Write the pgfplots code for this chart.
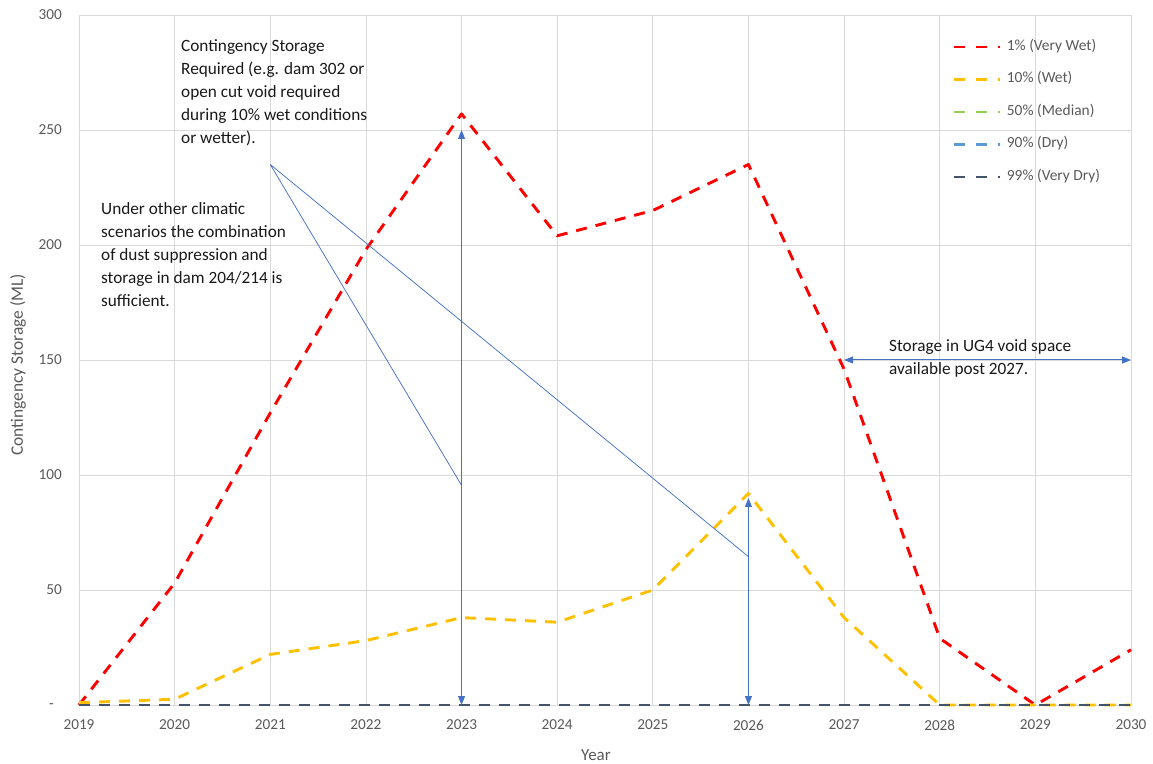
\documentclass[border=0pt]{standalone}
\usepackage{fontspec}
\setmainfont{Carlito}
\usepackage{pgfplots}
\pgfplotsset{compat=1.18}
\usetikzlibrary{arrows.meta}
\definecolor{cRed}{HTML}{FF0000}
\definecolor{cYel}{HTML}{FFC000}
\definecolor{cGrn}{HTML}{92D050}
\definecolor{cLbl}{HTML}{5B9BD5}
\definecolor{cDbl}{HTML}{44546A}
\definecolor{cArr}{HTML}{4472C4}
\definecolor{cGrid}{HTML}{D9D9D9}
\definecolor{cTxt}{HTML}{595959}
\newcommand{\annfont}{\fontsize{17.3}{23}\selectfont}
\newcommand{\tickfont}{\fontsize{15.3}{17}\selectfont}
\begin{document}
\begin{tikzpicture}
\useasboundingbox (-79bp,-59bp) rectangle (1074bp,705bp);
\begin{axis}[
  scale only axis, width=1052bp, height=690bp,
  xmin=2019, xmax=2030, ymin=0, ymax=300,
  clip=false,
  axis line style={draw=none},
  major tick length=0pt,
  grid=major, grid style={cGrid, line width=0.75bp},
  xtick={2019,2020,2021,2022,2023,2024,2025,2026,2027,2028,2029,2030},
  xticklabels={2019,2020,2021,2022,2023,2024,2025,2026,2027,2028,2029,2030},
  ytick={0,50,100,150,200,250,300},
  yticklabels={,50,100,150,200,250,300},
  tick label style={font=\tickfont, text=cTxt},
  xticklabel style={inner sep=0pt, anchor=center, yshift=-20bp},
  yticklabel style={inner sep=0pt, anchor=east, xshift=-17bp},
  xlabel={Year},
  xlabel style={at={(axis description cs:0.4914,-0.0725)}, anchor=center, font=\fontsize{17}{19}\selectfont, text=cTxt},
  ylabel={Contingency Storage (ML)},
  ylabel style={at={(axis description cs:-0.058,0.4928)}, anchor=center, font=\fontsize{17.5}{19}\selectfont, text=cTxt},
  legend image code/.code={\draw[#1, dash pattern=on 11bp off 11bp on 11bp off 11bp on 2bp] (0bp,0bp) -- (46bp,0bp);},
  legend cell align=left,
  legend style={at={(axis description cs:0.8308,0.9638)}, anchor=north west, draw=none, fill=none, inner sep=0pt, outer sep=0pt, row sep=18.5bp, column sep=5bp, font=\fontsize{15.5}{17}\selectfont, text=cTxt, nodes={inner sep=0pt, text height=10.5bp, text depth=3.5bp}},
  every axis plot/.append style={line width=2.9bp, dash pattern=on 11bp off 9bp, line join=round},
]
\addplot[cRed] coordinates {(2019,0) (2020,53) (2021,127) (2022,198) (2023,257) (2024,204) (2025,215) (2026,235) (2027,146) (2028,29) (2029,0) (2030,24)};
\addlegendentry{1\% (Very Wet)}
\addplot[cYel] coordinates {(2019,1) (2020,2.5) (2021,22) (2022,28) (2023,38) (2024,36) (2025,50) (2026,92) (2027,38) (2028,0) (2029,0) (2030,0)};
\addlegendentry{10\% (Wet)}
\addplot[cGrn] coordinates {(2019,0) (2020,0) (2021,0) (2022,0) (2023,0) (2024,0) (2025,0) (2026,0) (2027,0) (2028,0) (2029,0) (2030,0)};
\addlegendentry{50\% (Median)}
\addplot[cLbl] coordinates {(2019,0) (2020,0) (2021,0) (2022,0) (2023,0) (2024,0) (2025,0) (2026,0) (2027,0) (2028,0) (2029,0) (2030,0)};
\addlegendentry{90\% (Dry)}
\addplot[cDbl] coordinates {(2019,0) (2020,0) (2021,0) (2022,0) (2023,0) (2024,0) (2025,0) (2026,0) (2027,0) (2028,0) (2029,0) (2030,0)};
\addlegendentry{99\% (Very Dry)}
\draw[cArr, line width=1bp, {Triangle[length=9bp,width=7bp]}-{Triangle[length=9bp,width=7bp]}] (axis cs:2023,0) -- (axis cs:2023,250);
\draw[cArr, line width=1bp, {Triangle[length=9bp,width=7bp]}-{Triangle[length=9bp,width=7bp]}] (axis cs:2026,0) -- (axis cs:2026,90);
\draw[cArr, line width=1bp, {Triangle[length=9bp,width=7bp]}-{Triangle[length=9bp,width=7bp]}] (axis cs:2027,150) -- (axis cs:2030,150);
\draw[cArr, line width=0.75bp] (axis cs:2021,235) -- (axis cs:2023,95.5);
\draw[cArr, line width=0.75bp] (axis cs:2021,235) -- (axis cs:2026,64.5);
\end{axis}
\node[anchor=center, inner sep=0pt, font=\tickfont, text=cTxt] at (-27.5bp,-1bp) {-};
\begin{scope}[every node/.style={anchor=base west, inner sep=0pt, font=\annfont, text=black!90}]
\node at (102bp,653bp) {Contingency Storage};
\node at (102bp,630bp) {Required (e.g. dam 302 or};
\node at (102bp,607bp) {open cut void required};
\node at (102bp,584bp) {during 10\% wet conditions};
\node at (102bp,561bp) {or wetter).};
\node at (22bp,490bp) {Under other climatic};
\node at (22bp,467bp) {scenarios the combination};
\node at (22bp,444bp) {of dust suppression and};
\node at (22bp,421bp) {storage in dam 204/214 is};
\node at (22bp,398bp) {sufficient.};
\node at (810bp,353bp) {Storage in UG4 void space};
\node at (810bp,330bp) {available post 2027.};
\end{scope}
\end{tikzpicture}
\end{document}
